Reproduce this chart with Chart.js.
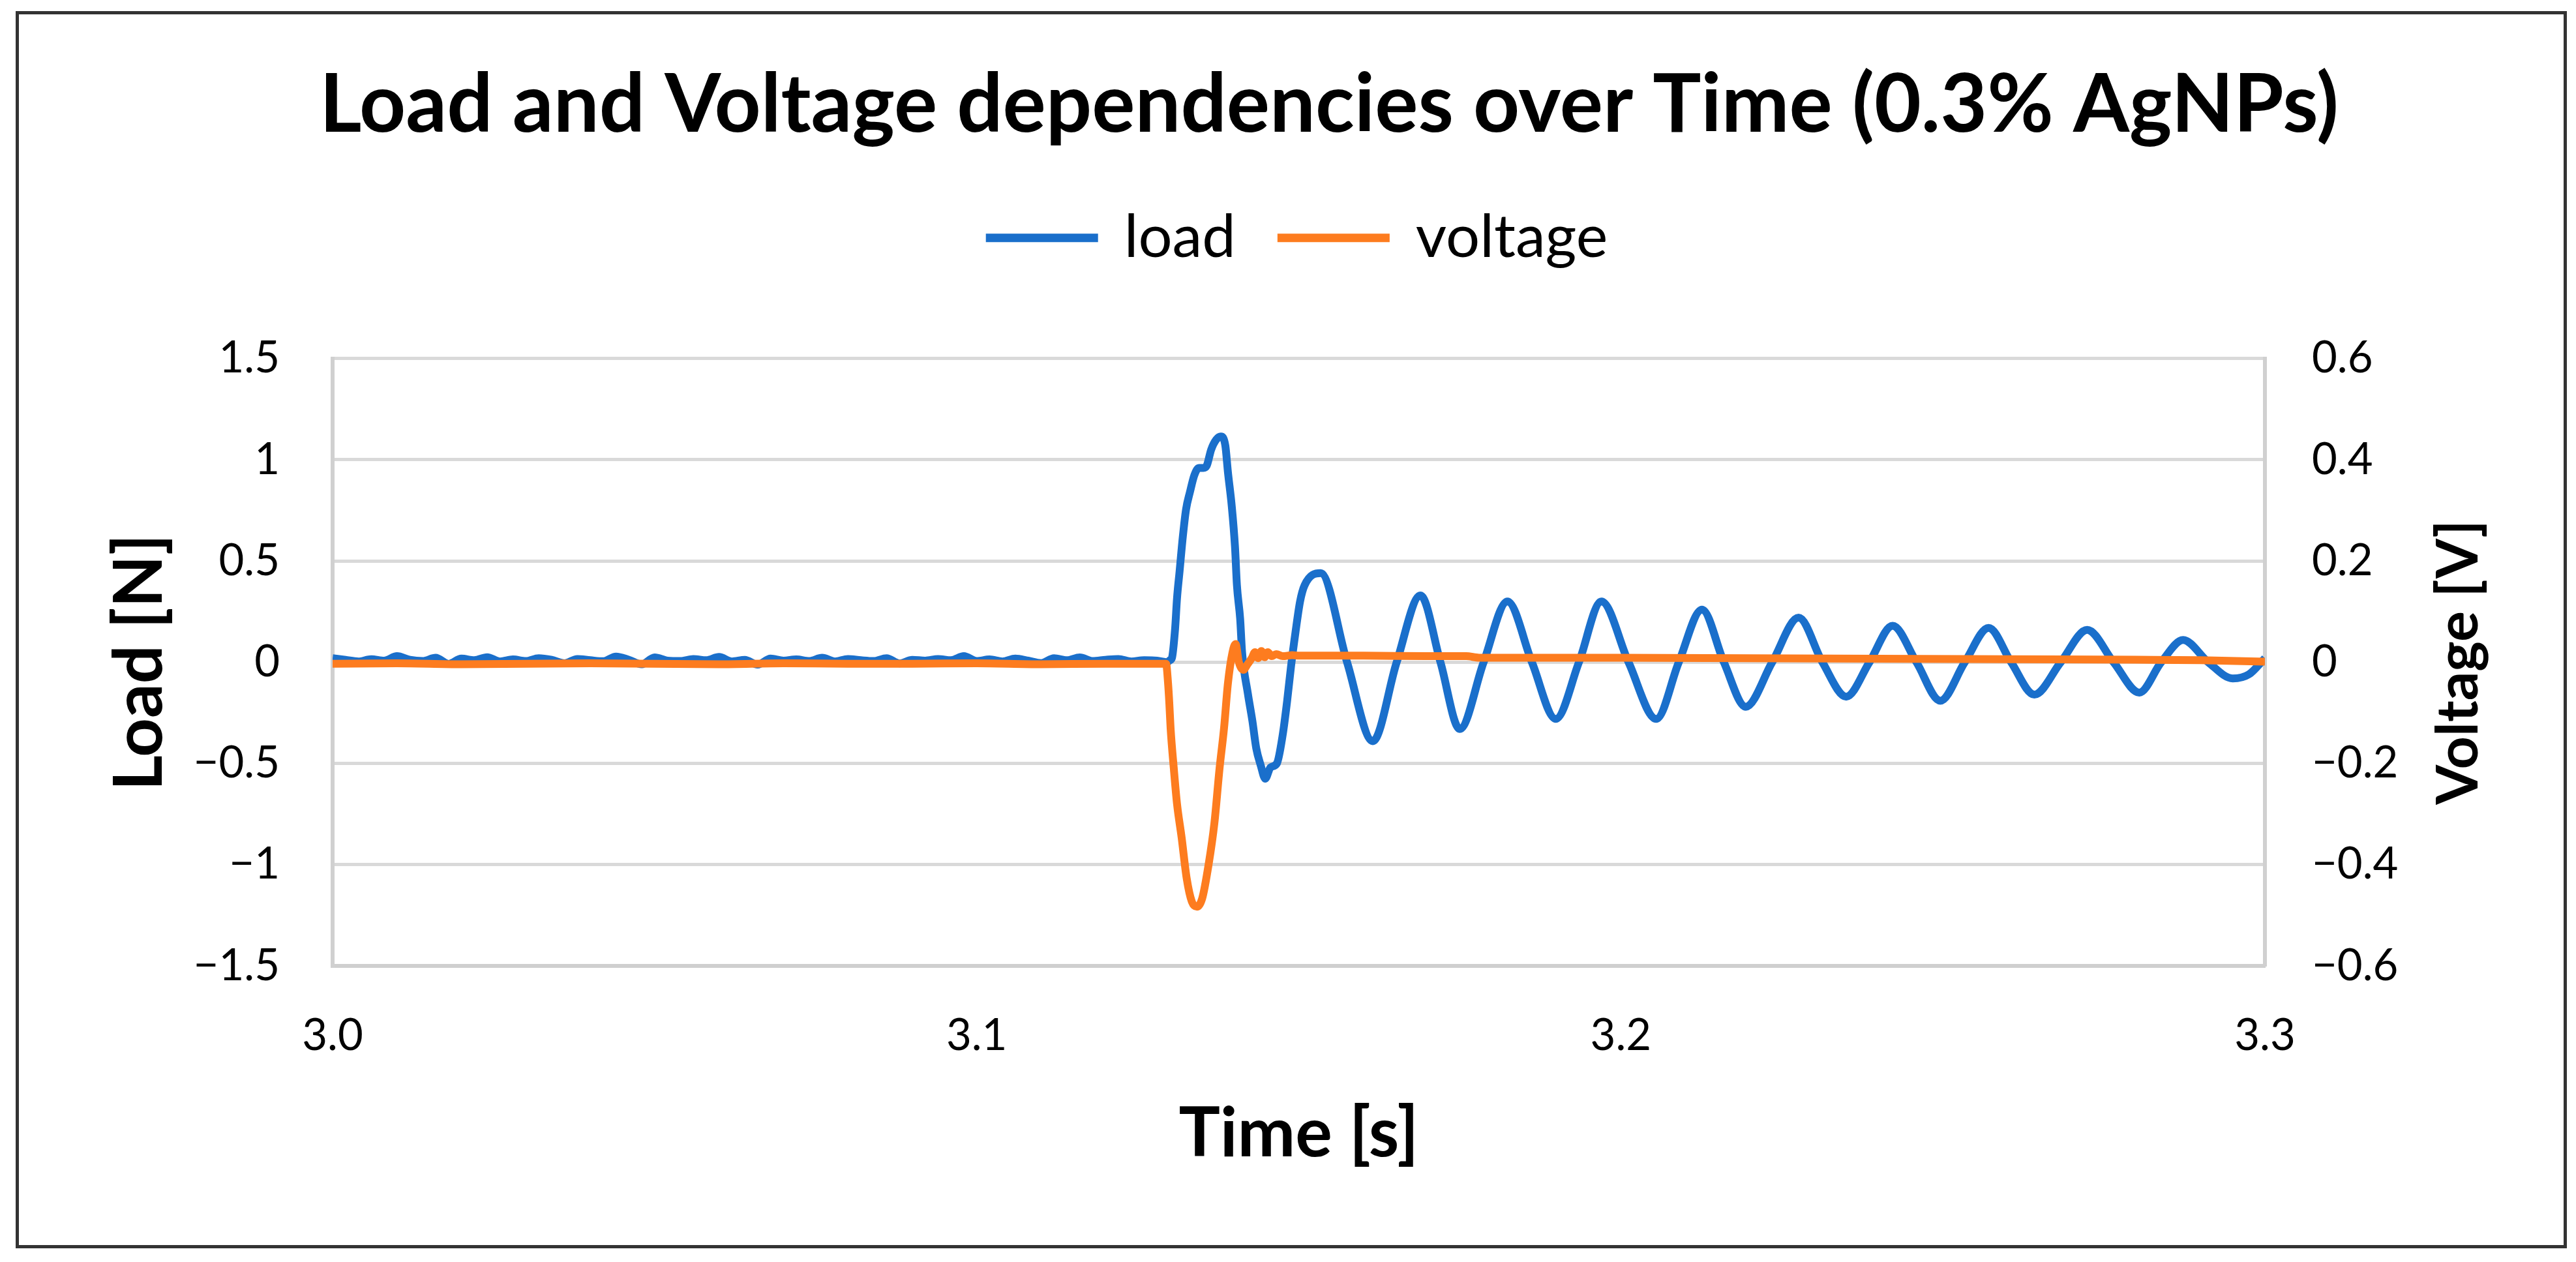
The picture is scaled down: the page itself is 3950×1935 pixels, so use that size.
<!DOCTYPE html>
<html lang="en">
<head>
    <meta charset="UTF-8">
    <title>Load and Voltage dependencies over Time (0.3% AgNPs)</title>
    <script src="https://cdn.jsdelivr.net/npm/chart.js"></script>
    <style>
        body {
            margin: 0;
            background: #fff;
            font-family: Lato, sans-serif;
        }
        #wrap {
            position: relative;
            width: 3950px;
            height: 1935px;
        }
        #frame {
            position: absolute;
            left: 24px;
            top: 17px;
            width: 3902px;
            height: 1887px;
            border: 5px solid #333;
            pointer-events: none;
        }
    </style>
</head>
<body>
<div id="wrap">
    <canvas id="chart"></canvas>
    <div id="frame"></div>
</div>

<script>
    // load signal [N]: quiet baseline, then the impact and ringing
    const loadTime = [
        3.000, 3.002, 3.004, 3.006, 3.008, 3.010, 3.012, 3.014, 3.016, 3.018,
        3.020, 3.022, 3.024, 3.026, 3.028, 3.030, 3.032, 3.034, 3.036, 3.038,
        3.040, 3.042, 3.044, 3.046, 3.048, 3.050, 3.052, 3.054, 3.056, 3.058,
        3.060, 3.062, 3.064, 3.066, 3.068, 3.070, 3.072, 3.074, 3.076, 3.078,
        3.080, 3.082, 3.084, 3.086, 3.088, 3.090, 3.092, 3.094, 3.096, 3.098,
        3.100, 3.102, 3.104, 3.106, 3.108, 3.110, 3.112, 3.114, 3.116, 3.118,
        3.120, 3.122, 3.124, 3.126, 3.128,
        3.1296, 3.1300, 3.1303, 3.1308, 3.1311, 3.1315, 3.1320, 3.1325, 3.1331, 3.1338,
        3.1345, 3.1352, 3.1357, 3.1364, 3.1372, 3.1379, 3.1386, 3.1390, 3.1396, 3.1401,
        3.1404, 3.1409, 3.1412, 3.1421, 3.1428, 3.1434, 3.1441, 3.1448, 3.1456, 3.1466,
        3.1475, 3.1482, 3.1488, 3.1495, 3.1502, 3.1509, 3.1534, 3.1575, 3.1615, 3.1652,
        3.1689, 3.1720, 3.1750, 3.1787, 3.1824, 3.1862, 3.1899, 3.1935, 3.1970, 3.2012,
        3.2055, 3.2090, 3.2126, 3.2160, 3.2194, 3.2235, 3.2276, 3.2313, 3.2350, 3.2386,
        3.2422, 3.2459, 3.2496, 3.2534, 3.2571, 3.2606, 3.2642, 3.2683, 3.2724, 3.2765,
        3.2805, 3.2839, 3.2873, 3.2912, 3.2950, 3.2975, 3.3000
    ];
    const loadValue = [
        0.020, 0.012, 0.004, 0.015, 0.008, 0.030, 0.012, 0.006, 0.022, -0.008,
        0.018, 0.010, 0.025, 0.004, 0.014, 0.006, 0.020, 0.012, -0.005, 0.016,
        0.010, 0.005, 0.028, 0.012, -0.010, 0.024, 0.008, 0.006, 0.016, 0.010,
        0.026, 0.004, 0.012, -0.012, 0.018, 0.008, 0.014, 0.006, 0.022, 0.004,
        0.016, 0.010, 0.006, 0.020, -0.006, 0.012, 0.008, 0.016, 0.010, 0.030,
        0.006, 0.014, 0.004, 0.018, 0.008, -0.004, 0.020, 0.010, 0.024, 0.006,
        0.012, 0.016, 0.004, 0.010, 0.008,
        0.000, 0.010, 0.020, 0.165, 0.316, 0.450, 0.620, 0.755, 0.840, 0.925,
        0.960, 0.960, 0.970, 1.050, 1.100, 1.115, 1.070, 0.940, 0.770, 0.570,
        0.380, 0.215, 0.050, -0.155, -0.290, -0.425, -0.510, -0.575, -0.520, -0.500,
        -0.360, -0.190, -0.020, 0.150, 0.300, 0.380, 0.440, 0.000, -0.390, 0.000,
        0.330, 0.000, -0.330, 0.000, 0.300, 0.000, -0.280, 0.000, 0.300, 0.000,
        -0.280, 0.000, 0.260, 0.000, -0.220, 0.000, 0.220, 0.000, -0.170, 0.000,
        0.180, 0.000, -0.190, 0.000, 0.170, 0.000, -0.160, 0.000, 0.160, 0.000,
        -0.150, 0.000, 0.110, 0.000, -0.080, -0.060, 0.020
    ];

    // voltage signal [V]
    const voltTime = [
        3.000, 3.010, 3.020, 3.030, 3.040, 3.050, 3.060, 3.070, 3.080, 3.090,
        3.100, 3.110, 3.120, 3.1294,
        3.1297, 3.1299, 3.1301, 3.1306, 3.1311, 3.1318, 3.1326, 3.1334, 3.1342, 3.1350,
        3.1360, 3.1369, 3.1377, 3.1384, 3.1390, 3.1397, 3.1402, 3.1407, 3.1414, 3.1420,
        3.1427, 3.1432, 3.1437, 3.1442, 3.1447, 3.1452, 3.1458, 3.1465, 3.1475, 3.1490,
        3.1500, 3.1600, 3.1700, 3.1760, 3.1780, 3.2000, 3.2200, 3.2400, 3.2600, 3.2800,
        3.2900, 3.3000
    ];
    const voltValue = [
        -0.003, -0.002, -0.004, -0.003, -0.002, -0.003, -0.004, -0.002, -0.003, -0.003,
        -0.002, -0.004, -0.003, -0.003,
        -0.040, -0.080, -0.130, -0.210, -0.280, -0.345, -0.427, -0.473, -0.483, -0.467,
        -0.400, -0.318, -0.210, -0.130, -0.042, 0.019, 0.036, 0.000, -0.015, -0.005,
        0.008, 0.020, 0.008, 0.022, 0.010, 0.020, 0.012, 0.016, 0.012, 0.014,
        0.013, 0.013, 0.012, 0.012, 0.009, 0.009, 0.008, 0.007, 0.006, 0.005,
        0.004, 0.001
    ];

    const loadTicks = [1.5, 1, 0.5, 0, -0.5, -1, -1.5];
    const voltTicks = [0.6, 0.4, 0.2, 0, -0.2, -0.4, -0.6];
    const timeTicks = [3.0, 3.1, 3.2, 3.3];

    const toPoints = (xs, ys) => xs.map((x, i) => ({ x: x, y: ys[i] }));
    const signed = (v, digits) => {
        if (Math.abs(v) < 1e-9) return '0';
        const txt = digits === null ? String(Math.abs(v)) : Math.abs(v).toFixed(digits);
        return (v < 0 ? '\u2212' : '') + txt;
    };

    Chart.defaults.font.family = 'Lato, sans-serif';
    Chart.defaults.color = '#000';

    // right axis title reads bottom-to-top like the left one
    const rightTitle = {
        id: 'rightTitle',
        afterDraw(chart) {
            const s = chart.scales.y2;
            const ctx = chart.ctx;
            ctx.save();
            ctx.translate(s.left + 298, (s.top + s.bottom) / 2);
            ctx.rotate(-Math.PI / 2);
            ctx.font = 'bold 88px Lato, sans-serif';
            ctx.fillStyle = '#000';
            ctx.textAlign = 'center';
            ctx.textBaseline = 'middle';
            ctx.fillText('Voltage [V]', 0, 0);
            ctx.restore();
        }
    };

    const ctx = document.getElementById('chart').getContext('2d');
    new Chart(ctx, {
        type: 'line',
        data: {
            datasets: [
                {
                    label: 'load',
                    data: toPoints(loadTime, loadValue),
                    borderColor: '#1a6fcb',
                    backgroundColor: '#1a6fcb',
                    borderWidth: 12,
                    pointRadius: 0,
                    cubicInterpolationMode: 'monotone',
                    yAxisID: 'y',
                    order: 2
                },
                {
                    label: 'voltage',
                    data: toPoints(voltTime, voltValue),
                    borderColor: '#fd7c1f',
                    backgroundColor: '#fd7c1f',
                    borderWidth: 12,
                    pointRadius: 0,
                    cubicInterpolationMode: 'monotone',
                    yAxisID: 'y2',
                    order: 1
                }
            ]
        },
        options: {
            responsive: true,
            maintainAspectRatio: false,
            devicePixelRatio: 1,
            animation: false,
            // left padding nudges the title right, as in the original
            layout: { padding: { left: 126, right: 0, top: 0, bottom: 0 } },
            plugins: {
                title: {
                    display: true,
                    text: 'Load and Voltage dependencies over Time (0.3% AgNPs)',
                    font: { size: 124, weight: 'bold' },
                    color: '#000',
                    padding: { top: 88, bottom: 12 }
                },
                legend: {
                    display: true,
                    position: 'top',
                    fullSize: false,
                    labels: {
                        font: { size: 92 },
                        color: '#000',
                        boxWidth: 160,
                        boxHeight: 1,
                        padding: 70,
                        sort: (a, b) => a.datasetIndex - b.datasetIndex
                    }
                },
                // spacer between legend and plot area
                subtitle: {
                    display: true,
                    text: '',
                    font: { size: 10 },
                    padding: { top: 117, bottom: 0 },
                    weight: 100
                },
                tooltip: { enabled: false }
            },
            scales: {
                x: {
                    type: 'linear',
                    min: 3.0,
                    max: 3.3,
                    afterFit: (s) => { s.height = 454; },
                    afterBuildTicks: (s) => { s.ticks = timeTicks.map(v => ({ value: v })); },
                    ticks: {
                        font: { size: 67 },
                        color: '#000',
                        padding: 67,
                        maxRotation: 0,
                        callback: (v) => Number(v).toFixed(1)
                    },
                    grid: { display: false, drawTicks: false },
                    border: { display: true, color: '#cfcfcf', width: 6 },
                    title: {
                        display: true,
                        text: 'Time [s]',
                        font: { size: 106, weight: 'bold' },
                        color: '#000',
                        padding: { top: 0, bottom: 133 }
                    }
                },
                y: {
                    position: 'left',
                    min: -1.5,
                    max: 1.5,
                    afterFit: (s) => { s.width = 384; },
                    afterBuildTicks: (s) => { s.ticks = loadTicks.map(v => ({ value: v })); },
                    ticks: {
                        font: { size: 67 },
                        color: '#000',
                        padding: 81,
                        callback: (v) => signed(v, null)
                    },
                    grid: { color: '#d9d9d9', lineWidth: 5, drawTicks: false },
                    border: { display: true, color: '#d0d0d0', width: 6 },
                    title: {
                        display: true,
                        text: 'Load [N]',
                        font: { size: 104, weight: 'bold' },
                        color: '#000',
                        padding: { top: 26, bottom: 0 }
                    }
                },
                y2: {
                    position: 'right',
                    min: -0.6,
                    max: 0.6,
                    afterFit: (s) => { s.width = 477; },
                    afterBuildTicks: (s) => { s.ticks = voltTicks.map(v => ({ value: v })); },
                    ticks: {
                        font: { size: 67 },
                        color: '#000',
                        padding: 72,
                        callback: (v) => signed(v, 1)
                    },
                    grid: { drawOnChartArea: false, drawTicks: false },
                    border: { display: true, color: '#d0d0d0', width: 6 }
                }
            }
        },
        plugins: [rightTitle]
    });
</script>
</body>
</html>
